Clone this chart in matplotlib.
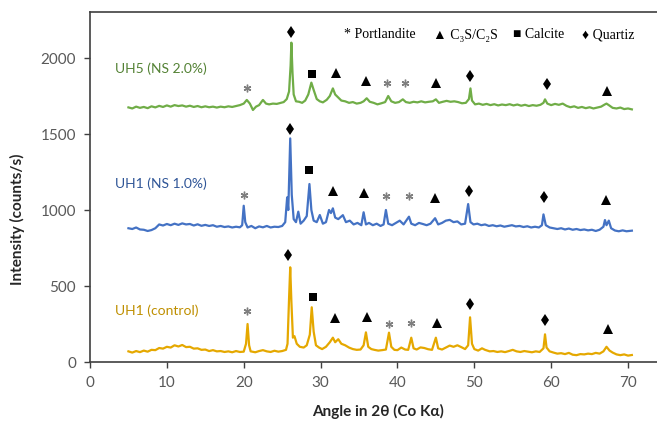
import matplotlib
matplotlib.use("Agg")
import matplotlib.pyplot as plt
import numpy as np

# ---------------- data ----------------
ctrl_pts = [(5.0,70),(5.5,62),(6.0,72),(6.5,65),(7.0,75),(7.5,68),(8.0,80),(8.5,78),(9.0,92),(9.5,88),
            (10.0,100),(10.5,95),(11.0,110),(11.5,102),(12.0,112),(12.5,98),(13.0,100),(13.5,88),(14.0,90),
            (14.5,80),(15.0,82),(15.5,72),(16.0,78),(16.5,70),(17.0,72),(17.5,66),(18.0,70),(18.5,64),(19.0,72),
            (19.5,66),(20.0,68),(20.3,120),(20.5,250),(20.7,110),(20.9,70),(21.5,64),(22.0,72),(22.5,78),(23.0,70),
            (23.5,66),(24.0,74),(24.5,68),(25.0,72),(25.5,80),(25.7,120),(25.9,420),(26.05,623),(26.2,400),
            (26.4,160),(26.6,170),(26.9,120),(27.3,100),(27.8,95),(28.2,110),(28.6,180),(28.85,360),(29.1,200),
            (29.4,110),(29.8,95),(30.2,85),(30.7,100),(31.2,130),(31.6,160),(31.9,130),(32.3,150),(32.7,120),
            (33.2,110),(33.7,95),(34.2,85),(34.7,80),(35.2,82),(35.6,110),(35.9,195),(36.2,100),(36.6,85),
            (37.0,80),(37.5,75),(38.0,78),(38.5,82),(38.9,193),(39.2,100),(39.6,80),(40.0,78),(40.5,95),
            (41.0,82),(41.4,80),(41.8,160),(42.1,90),(42.5,82),(43.0,96),(43.5,92),(44.0,84),(44.5,80),
            (45.0,160),(45.3,90),(45.8,82),(46.3,95),(46.8,108),(47.3,100),(47.8,110),(48.3,98),(48.8,85),
            (49.2,110),(49.45,294),(49.7,120),(50.0,85),(50.5,75),(51.0,90),(51.4,80),(52.0,70),(52.5,72),
            (53.0,66),(53.5,70),(54.0,65),(54.5,72),(55.0,80),(55.5,70),(56.0,66),(56.5,72),(57.0,68),(57.5,64),
            (58.0,70),(58.5,66),(59.0,90),(59.2,182),(59.4,95),(59.8,70),(60.3,62),(60.8,55),(61.3,58),
            (61.8,52),(62.3,60),(62.8,48),(63.3,45),(63.8,52),(64.3,50),(64.8,55),(65.3,52),(65.8,60),(66.3,55),
            (66.8,70),(67.2,100),(67.6,75),(68.0,62),(68.5,50),(69.0,45),(69.5,50),(70.0,42),(70.5,46)]

ns1_pts = [(5.0,880),(5.5,875),(6.0,885),(6.5,872),(7.0,870),(7.5,862),(8.0,868),(8.5,880),(9.0,905),
           (9.5,898),(10.0,908),(10.5,900),(11.0,910),(11.5,902),(12.0,912),(12.5,905),(13.0,908),(13.5,898),
           (14.0,906),(14.5,896),(15.0,902),(15.5,895),(16.0,900),(16.5,890),(17.0,895),(17.5,888),(18.0,892),
           (18.5,885),(19.0,890),(19.5,886),(19.8,900),(20.0,1028),(20.2,920),(20.5,885),(21.0,895),(21.5,880),
           (22.0,892),(22.5,886),(23.0,895),(23.5,885),(24.0,890),(24.5,888),(25.0,895),(25.4,920),(25.65,1083),
           (25.8,1000),(26.05,1471),(26.25,1100),(26.5,940),(26.8,920),(27.1,989),(27.4,910),(27.8,930),
           (28.2,960),(28.55,1171),(28.8,1000),(29.1,930),(29.5,920),(29.9,967),(30.3,910),(30.7,920),
           (31.1,1000),(31.35,980),(31.6,1011),(31.9,950),(32.3,940),(32.9,966),(33.3,920),(33.8,930),
           (34.3,905),(34.8,915),(35.3,900),(35.6,985),(35.9,905),(36.3,915),(36.8,900),(37.3,910),(37.8,895),
           (38.2,905),(38.5,1000),(38.8,910),(39.3,900),(39.8,915),(40.3,930),(40.8,905),(41.5,956),(41.8,910),
           (42.3,900),(42.8,915),(43.3,908),(43.8,900),(44.3,910),(44.9,946),(45.3,905),(45.8,915),(46.3,930),
           (46.8,935),(47.3,920),(47.8,925),(48.3,905),(48.8,910),(49.2,1039),(49.5,920),(49.9,905),(50.4,910),
           (50.9,900),(51.4,905),(51.9,895),(52.4,900),(52.9,893),(53.4,898),(53.9,890),(54.4,895),(54.9,900),
           (55.4,892),(55.9,895),(56.4,888),(56.9,893),(57.4,885),(57.9,890),(58.4,885),(58.8,900),(59.0,971),
           (59.3,900),(59.8,885),(60.3,880),(60.8,875),(61.3,880),(61.8,872),(62.3,878),(62.8,870),(63.3,875),
           (63.8,868),(64.3,872),(64.8,866),(65.3,870),(65.8,862),(66.3,870),(66.8,890),(67.0,934),(67.2,900),
           (67.5,930),(67.8,880),(68.3,865),(68.8,860),(69.3,866),(69.8,860),(70.5,864)]

ns2_pts = [(5.0,1675),(5.5,1668),(6.0,1680),(6.5,1672),(7.0,1678),(7.5,1670),(8.0,1682),(8.5,1675),
           (9.0,1685),(9.5,1678),(10.0,1688),(10.5,1680),(11.0,1690),(11.5,1684),(12.0,1688),(12.5,1680),
           (13.0,1686),(13.5,1678),(14.0,1684),(14.5,1676),(15.0,1682),(15.5,1676),(16.0,1680),(16.5,1674),
           (17.0,1680),(17.5,1676),(18.0,1682),(18.5,1678),(19.0,1684),(19.5,1690),(20.0,1700),(20.4,1724),
           (20.8,1700),(21.2,1658),(21.6,1680),(22.0,1690),(22.5,1724),(22.9,1700),(23.3,1695),(23.8,1700),
           (24.3,1698),(24.8,1705),(25.2,1710),(25.6,1730),(25.9,1780),(26.1,1950),(26.2,2101),(26.35,1900),
           (26.5,1760),(26.8,1715),(27.2,1712),(27.6,1705),(28.0,1720),(28.4,1760),(28.8,1838),(29.1,1790),
           (29.5,1730),(29.9,1715),(30.3,1708),(30.8,1725),(31.2,1750),(31.6,1800),(31.9,1760),(32.3,1740),
           (32.7,1720),(33.2,1715),(33.7,1705),(34.2,1710),(34.7,1700),(35.2,1705),(35.6,1715),(36.0,1735),
           (36.4,1712),(36.9,1705),(37.4,1695),(37.9,1702),(38.4,1710),(38.8,1750),(39.2,1715),(39.7,1705),
           (40.2,1710),(40.7,1728),(41.1,1710),(41.6,1705),(42.1,1712),(42.6,1708),(43.1,1715),(43.6,1708),
           (44.1,1712),(44.6,1715),(45.0,1728),(45.4,1705),(45.9,1712),(46.4,1718),(46.9,1712),(47.4,1715),
           (47.9,1710),(48.4,1702),(48.9,1705),(49.3,1730),(49.5,1800),(49.7,1720),(50.1,1695),(50.6,1700),
           (51.1,1692),(51.6,1698),(52.1,1690),(52.6,1696),(53.1,1688),(53.6,1694),(54.1,1690),(54.6,1696),
           (55.1,1688),(55.6,1694),(56.1,1686),(56.6,1692),(57.1,1684),(57.6,1690),(58.1,1686),(58.6,1692),
           (59.0,1705),(59.2,1728),(59.5,1700),(60.0,1690),(60.5,1698),(61.0,1692),(61.5,1700),(62.0,1685),
           (62.5,1676),(63.0,1682),(63.5,1672),(64.0,1678),(64.5,1670),(65.0,1676),(65.5,1668),(66.0,1674),
           (66.5,1680),(67.0,1695),(67.2,1700),(67.5,1690),(68.0,1672),(68.5,1668),(69.0,1674),(69.5,1664),
           (70.0,1668),(70.5,1662)]

# phase marks: (symbol, angle, intensity)
ns2_marks = [('*',20.39,1805),('d',26.15,2169),('s',28.92,1895),('^',31.97,1899),('^',35.91,1849),
             ('*',38.60,1838),('*',40.98,1838),('^',44.98,1838),('d',49.48,1884),('d',59.42,1829),('^',67.23,1783)]
ns1_marks = [('*',20.04,1099),('d',26.06,1531),('s',28.53,1263),('^',31.58,1125),('^',35.65,1114),
             ('*',38.51,1092),('*',41.54,1092),('^',44.85,1081),('d',49.27,1127),('d',59.07,1088),('^',67.14,1064)]
ctrl_marks = [('*',20.39,337),('d',25.80,704),('s',29.05,426),('^',31.88,288),('^',36.00,298),
              ('*',38.90,248),('*',41.73,255),('^',45.19,259),('d',49.40,380),('d',59.16,274),('^',67.44,215)]

series_labels = ["UH5 (NS 2.0%)", "UH1 (NS 1.0%)", "UH1 (control)"]
label_pos = [(3.3, 1930), (3.3, 1170), (3.3, 337)]
line_colors = ["#70AD47", "#4472C4", "#E5A800"]
text_colors = ["#548235", "#2F5597", "#BF8F00"]

legend_items = ["* Portlandite", "▲ C₃S/C₂S", "■ Calcite", "♦ Quartiz"]
legend_x_px = [344, 433, 513, 582]

x_ticks = [0, 10, 20, 30, 40, 50, 60, 70]
y_ticks = [0, 500, 1000, 1500, 2000]

# ---------------- figure ----------------
W, H = 657, 422
fig = plt.figure(figsize=(W/100, H/100), dpi=100)
x0, xr = 90, 7.686          # px at 0, px per degree
y0, yr = 362, 0.152         # px at 0, px per count
xmax, ymax = 75, 2300
ax = fig.add_axes([x0/W, (H-y0)/H, xmax*xr/W, ymax*yr/H])

sans = ["Lato", "DejaVu Sans"]
serif = ["Liberation Serif", "DejaVu Serif"]

for pts, c in zip([ns2_pts, ns1_pts, ctrl_pts], line_colors):
    a = np.array(pts)
    ax.plot(a[:, 0], a[:, 1], color=c, lw=1.6, solid_joinstyle='round')

mk_style = {
    '*': dict(marker=(6, 2, 0), ms=5.5, mew=1.0, color='#7F7F7F'),
    'd': dict(marker='d', ms=6.3, color='black'),
    's': dict(marker='s', ms=5.8, color='black'),
    '^': dict(marker='^', ms=6.9, color='black'),
}
for marks in [ns2_marks, ns1_marks, ctrl_marks]:
    for sym, xa, ya in marks:
        st = mk_style[sym]
        ax.plot([xa], [ya], linestyle='none', marker=st['marker'], ms=st['ms'],
                mew=st.get('mew', 0), color=st['color'], mfc=st['color'], mec=st['color'])

for lab, (lx, ly), c in zip(series_labels, label_pos, text_colors):
    ax.text(lx, ly, lab, color=c, fontsize=10, family=sans, va='center', ha='left')

for txt, px in zip(legend_items, legend_x_px):
    fig.text(px/W, (H-35)/H, txt, fontsize=10, family=serif, va='center', ha='left', color='black')

ax.set_xlim(0, xmax)
ax.set_ylim(0, ymax)
ax.set_xticks(x_ticks)
ax.set_yticks(y_ticks)
spine_c = '#404040'
for s in ['left', 'bottom', 'top']:
    ax.spines[s].set_color(spine_c)
    ax.spines[s].set_linewidth(1.2)
ax.spines['right'].set_visible(False)
ax.tick_params(direction='out', length=4, width=1.0, color=spine_c, labelcolor='#595959',
               labelsize=11, pad=6)
for t in ax.get_xticklabels() + ax.get_yticklabels():
    t.set_family(sans)

fig.text(378/W, (H-411)/H, "Angle in 2θ (Co Kα)", fontsize=11, fontweight='bold',
         family=sans, ha='center', va='center', color='#262626')
fig.text(17/W, (H-219)/H, "Intensity (counts/s)", fontsize=11, fontweight='bold',
         family=sans, ha='center', va='center', rotation=90, color='#262626')

fig.savefig("out.png", dpi=100)
